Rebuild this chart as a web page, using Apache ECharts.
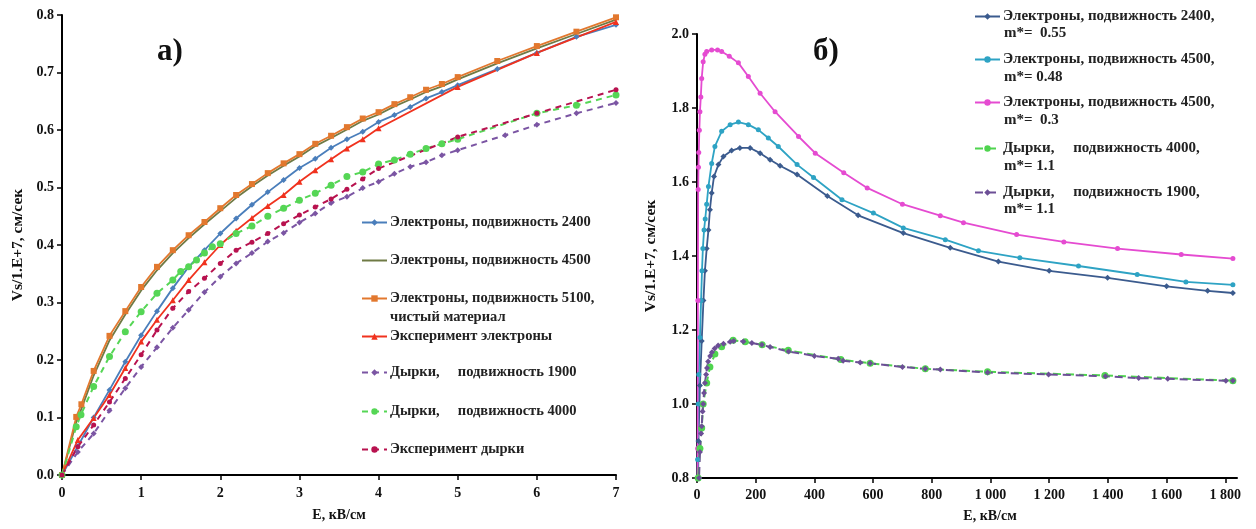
<!DOCTYPE html>
<html>
<head>
<meta charset="utf-8">
<script src="https://cdn.jsdelivr.net/npm/echarts@6/dist/echarts.min.js"></script>
<style>
html,body{margin:0;padding:0;background:#fff;}
#c{width:1256px;height:529px;}
</style>
</head>
<body>
<div id="c"></div>
<script>
// ---------- Chart а) ----------
const e2400E = [0,0.2,0.4,0.6,0.8,1.0,1.2,1.4,1.6,1.8,2.0,2.2,2.4,2.6,2.8,3.0,3.2,3.4,3.6,3.8,4.0,4.2,4.4,4.6,4.8,5.0,5.5,6.0,6.5,7.0];
const e2400V = [0,0.05,0.1,0.148,0.197,0.243,0.285,0.325,0.362,0.391,0.42,0.446,0.47,0.492,0.513,0.534,0.55,0.569,0.584,0.597,0.614,0.626,0.64,0.655,0.666,0.678,0.706,0.734,0.762,0.783];
const e5100E = [0,0.18,0.245,0.4,0.6,0.8,1.0,1.2,1.4,1.6,1.8,2.0,2.2,2.4,2.6,2.8,3.0,3.2,3.4,3.6,3.8,4.0,4.2,4.4,4.6,4.8,5.0,5.5,6.0,6.5,7.0];
const e5100V = [0,0.101,0.123,0.181,0.242,0.285,0.327,0.362,0.391,0.417,0.44,0.464,0.487,0.506,0.525,0.542,0.558,0.576,0.59,0.605,0.62,0.631,0.645,0.657,0.67,0.68,0.692,0.72,0.746,0.771,0.796];
const e4500E = e5100E;
const e4500V = [0,0.092,0.115,0.173,0.234,0.279,0.321,0.356,0.386,0.412,0.436,0.459,0.482,0.502,0.521,0.538,0.554,0.572,0.586,0.601,0.616,0.627,0.641,0.653,0.666,0.676,0.688,0.716,0.742,0.767,0.792];
const expElE = [0,0.2,0.4,0.6,0.8,1.0,1.2,1.4,1.6,1.8,2.0,2.2,2.4,2.6,2.8,3.0,3.2,3.4,3.6,3.8,4.0,5.0,6.0,7.0];
const expElV = [0,0.061,0.099,0.139,0.186,0.232,0.27,0.304,0.339,0.37,0.4,0.425,0.447,0.468,0.487,0.51,0.53,0.549,0.568,0.584,0.603,0.675,0.734,0.788];
const h1900E = [0,0.2,0.4,0.6,0.8,1.0,1.2,1.4,1.6,1.8,2.0,2.2,2.4,2.6,2.8,3.0,3.2,3.4,3.6,3.8,4.0,4.2,4.4,4.6,4.8,5.0,5.6,6.0,6.5,7.0];
const h1900V = [0,0.04,0.072,0.112,0.151,0.188,0.222,0.256,0.287,0.318,0.345,0.368,0.386,0.406,0.421,0.439,0.455,0.473,0.484,0.499,0.51,0.524,0.536,0.544,0.556,0.565,0.591,0.609,0.629,0.647];
const h4000E = [0,0.18,0.24,0.4,0.6,0.8,1.0,1.2,1.4,1.5,1.6,1.7,1.8,1.9,2.0,2.2,2.4,2.6,2.8,3.0,3.2,3.4,3.6,3.8,4.0,4.2,4.4,4.6,4.8,5.0,6.0,6.5,7.0];
const h4000V = [0,0.084,0.105,0.154,0.206,0.249,0.284,0.316,0.339,0.354,0.362,0.374,0.386,0.397,0.402,0.42,0.433,0.45,0.464,0.478,0.49,0.504,0.519,0.527,0.541,0.548,0.558,0.568,0.576,0.584,0.629,0.643,0.661];
const expHE = [0,0.2,0.4,0.6,0.8,1.0,1.2,1.4,1.6,1.8,2.0,2.2,2.4,2.6,2.8,3.0,3.2,3.4,3.6,3.8,4.0,5.0,6.0,7.0];
const expHV = [0,0.049,0.087,0.127,0.168,0.209,0.252,0.29,0.319,0.342,0.368,0.391,0.405,0.42,0.437,0.452,0.466,0.48,0.497,0.515,0.533,0.588,0.629,0.67];

// ---------- Chart б) ----------
const n2400E = [0,3,5,10,16,22,27,33,39,44,50,58,73,90,118,146,181,215,249,283,341,444,549,703,863,1027,1200,1399,1600,1740,1826];
const n2400V = [0,0.7,0.9,1.05,1.17,1.28,1.36,1.42,1.47,1.525,1.57,1.615,1.647,1.669,1.685,1.692,1.692,1.678,1.66,1.644,1.62,1.562,1.51,1.462,1.422,1.385,1.36,1.341,1.318,1.306,1.3];
const t4500E = [0,2,4,6,10,14,17,20,24,28,33,39,50,61,84,113,141,175,209,243,277,341,397,494,601,703,846,959,1100,1300,1500,1666,1826];
const t4500V = [0,0.85,1.0,1.08,1.18,1.28,1.36,1.42,1.47,1.5,1.54,1.588,1.65,1.696,1.737,1.755,1.762,1.755,1.741,1.719,1.696,1.647,1.612,1.552,1.516,1.476,1.444,1.414,1.395,1.373,1.35,1.33,1.322];
const m4500E = [0,1,2,3,4,5,6,8,10,13,16,21,27,33,50,70,84,110,141,175,215,266,346,403,500,580,700,829,908,1089,1250,1433,1650,1826];
const m4500V = [0,0.45,0.88,1.28,1.58,1.64,1.68,1.74,1.79,1.83,1.88,1.925,1.945,1.953,1.957,1.957,1.953,1.94,1.922,1.885,1.84,1.79,1.723,1.678,1.625,1.584,1.54,1.509,1.49,1.458,1.438,1.42,1.404,1.393];
const p4000E = [0,4,10,16,21,33,44,61,84,123,164,222,311,490,590,778,990,1390,1826];
const p4000V = [0,0.8,0.88,0.935,1.0,1.057,1.1,1.135,1.155,1.172,1.168,1.16,1.145,1.12,1.11,1.095,1.087,1.077,1.063];
const p1900E = [0,7,10,14,16,19,21,24,27,31,34,38,45,51,60,72,90,113,125,158,187,221,249,312,400,481,498,556,590,700,778,829,990,1198,1392,1505,1604,1802,1826];
const p1900V = [0,0.8,0.87,0.92,0.94,0.98,1.0,1.03,1.057,1.08,1.097,1.115,1.13,1.14,1.15,1.158,1.163,1.168,1.17,1.169,1.165,1.16,1.154,1.142,1.13,1.122,1.117,1.112,1.11,1.1,1.095,1.093,1.085,1.08,1.075,1.07,1.068,1.063,1.063];

const leftXTicks = [0,1,2,3,4,5,6,7];
const rightXTicks = [0,200,400,600,800,1000,1200,1400,1600,1800];

const FONT = '"Liberation Serif", "Times New Roman", serif';
const zip = (a, b) => a.map((x, i) => [x, b[i]]);

function mk(name, E, V, color, opt, gi) {
  return Object.assign({
    name: name, type: 'line', xAxisIndex: gi, yAxisIndex: gi,
    data: zip(E, V), color: color,
    symbol: 'circle', symbolSize: 5, showAllSymbol: true,
    lineStyle: { width: 1.8, color: color, type: 'solid' },
    itemStyle: { color: color },
    emphasis: { disabled: true }, animation: false, clip: true
  }, opt);
}

const series = [
  mk('L1', e2400E, e2400V, '#4a7ebb', { symbol: 'diamond', symbolSize: 6 }, 0),
  mk('L2', e4500E, e4500V, '#6f7a45', { symbol: 'none' }, 0),
  mk('L3', e5100E, e5100V, '#e2782e', { symbol: 'rect', symbolSize: 6 }, 0),
  mk('L4', expElE, expElV, '#f0321e', { symbol: 'triangle', symbolSize: 6 }, 0),
  mk('L5', h1900E, h1900V, '#7b55a3', { symbol: 'diamond', symbolSize: 6, lineStyle: { width: 2, color: '#7b55a3', type: [6, 5] } }, 0),
  mk('L6', h4000E, h4000V, '#55d655', { symbol: 'circle', symbolSize: 7, lineStyle: { width: 2, color: '#55d655', type: [6, 5] } }, 0),
  mk('L7', expHE, expHV, '#b8124f', { symbol: 'circle', symbolSize: 5, lineStyle: { width: 2, color: '#b8124f', type: [6, 5] } }, 0),
  mk('R1', n2400E, n2400V, '#3b5b8e', { symbol: 'diamond', symbolSize: 6 }, 1),
  mk('R2', t4500E, t4500V, '#2ea3c4', { symbol: 'circle', symbolSize: 5 }, 1),
  mk('R3', m4500E, m4500V, '#e54bd1', { symbol: 'circle', symbolSize: 5 }, 1),
  mk('R4', p4000E, p4000V, '#4fd44f', { symbol: 'circle', symbolSize: 7, lineStyle: { width: 2, color: '#4fd44f', type: [8, 5] } }, 1),
  mk('R5', p1900E, p1900V, '#6c4f96', { symbol: 'diamond', symbolSize: 6, lineStyle: { width: 2, color: '#6c4f96', type: [8, 5] } }, 1)
];

const legendTexts = {
  L1: 'Электроны, подвижность 2400',
  L2: 'Электроны, подвижность 4500',
  L3: 'Электроны, подвижность 5100,',
  L4: 'Эксперимент электроны',
  L5: 'Дырки,     подвижность 1900',
  L6: 'Дырки,     подвижность 4000',
  L7: 'Эксперимент дырки',
  R1: 'Электроны, подвижность 2400,',
  R2: 'Электроны, подвижность 4500,',
  R3: 'Электроны, подвижность 4500,',
  R4: 'Дырки,     подвижность 4000,',
  R5: 'Дырки,     подвижность 1900,'
};
const legendPos = {
  L1: [361, 223], L2: [361, 261], L3: [361, 299], L4: [361, 337], L5: [361, 373], L6: [361, 412], L7: [361, 450],
  R1: [974, 17], R2: [974, 60], R3: [974, 103], R4: [974, 149], R5: [974, 193]
};
const secondLines = [
  ['чистый материал', 390, 318, 14.5],
  ['m*=  0.55', 1004, 34, 15],
  ['m*= 0.48', 1004, 78, 15],
  ['m*=  0.3', 1004, 121, 15],
  ['m*= 1.1', 1004, 167, 15],
  ['m*= 1.1', 1004, 210, 15]
];

const legends = Object.keys(legendTexts).map(k => {
  const isRight = k[0] === 'R';
  const lg = {
    data: [k], left: legendPos[k][0], top: legendPos[k][1] - 8,
    itemWidth: 25, itemHeight: 8, itemGap: 0, padding: 0,
    selectedMode: false,
    formatter: () => legendTexts[k],
    textStyle: { fontFamily: FONT, fontWeight: 'bold', fontSize: isRight ? 15 : 14.5, color: '#222', padding: [0, 0, 0, -2] }
  };
  if (k === 'L2') lg.itemStyle = { color: 'rgba(0,0,0,0)', borderWidth: 0, opacity: 0 };
  return lg;
});

const graphics = secondLines.map(s => ({
  type: 'text', left: s[1], top: s[2] - 8,
  style: { text: s[0], font: 'bold ' + s[3] + 'px ' + FONT, fill: '#222' }
}));
graphics.push({ type: 'text', left: 157, top: 36, style: { text: 'а)', font: 'bold 31px ' + FONT, fill: '#111' } });
graphics.push({ type: 'text', left: 813, top: 36, style: { text: 'б)', font: 'bold 31px ' + FONT, fill: '#111' } });

const axLine = { show: true, lineStyle: { color: '#000', width: 2 } };
const axTick = { show: true, inside: false, length: 5, lineStyle: { color: '#000', width: 1.5 } };
const lblStyle = { fontFamily: FONT, fontWeight: 'bold', fontSize: 14, color: '#111' };

const option = {
  backgroundColor: '#fff',
  animation: false,
  grid: [
    { left: 62, top: 15, width: 554, height: 460 },
    { left: 697, top: 34, width: 540, height: 444 }
  ],
  xAxis: [
    { type: 'value', gridIndex: 0, min: leftXTicks[0], max: leftXTicks[leftXTicks.length - 1], interval: 1,
      name: 'E, кВ/см', nameLocation: 'middle', nameGap: 33,
      nameTextStyle: { fontFamily: FONT, fontWeight: 'bold', fontSize: 14, color: '#111' },
      axisLine: axLine, axisTick: axTick, splitLine: { show: false },
      axisLabel: Object.assign({ margin: 11 }, lblStyle) },
    { type: 'value', gridIndex: 1, min: rightXTicks[0], max: 1840, interval: 200,
      name: 'E, кВ/см', nameLocation: 'middle', nameGap: 31,
      nameTextStyle: { fontFamily: FONT, fontWeight: 'bold', fontSize: 14, color: '#111', padding: [0, 0, 0, 46] },
      axisLine: axLine, axisTick: axTick, splitLine: { show: false },
      axisLabel: Object.assign({ margin: 10, showMaxLabel: false,
        formatter: v => (rightXTicks.indexOf(v) < 0 ? '' : (v >= 1000 ? Math.floor(v / 1000) + ' ' + String(v % 1000).padStart(3, '0') : String(v))) }, lblStyle) }
  ],
  yAxis: [
    { type: 'value', gridIndex: 0, min: 0, max: 0.8, interval: 0.1,
      name: 'Vs/1.E+7, см/сек', nameLocation: 'middle', nameGap: 36, nameRotate: 90,
      nameTextStyle: { fontFamily: FONT, fontWeight: 'bold', fontSize: 15.5, color: '#111' },
      axisLine: axLine, axisTick: axTick, splitLine: { show: false },
      axisLabel: Object.assign({ margin: 8, formatter: v => v.toFixed(1) }, lblStyle) },
    { type: 'value', gridIndex: 1, min: 0.8, max: 2.0, interval: 0.2,
      name: 'Vs/1.E+7, см/сек', nameLocation: 'middle', nameGap: 38, nameRotate: 90,
      nameTextStyle: { fontFamily: FONT, fontWeight: 'bold', fontSize: 15.5, color: '#111' },
      axisLine: axLine, axisTick: axTick, splitLine: { show: false },
      axisLabel: Object.assign({ margin: 8, formatter: v => v.toFixed(1) }, lblStyle) }
  ],
  legend: legends,
  graphic: graphics,
  series: series
};

const chart = echarts.init(document.getElementById('c'), null, { renderer: 'canvas' });
chart.setOption(option);
</script>
</body>
</html>
